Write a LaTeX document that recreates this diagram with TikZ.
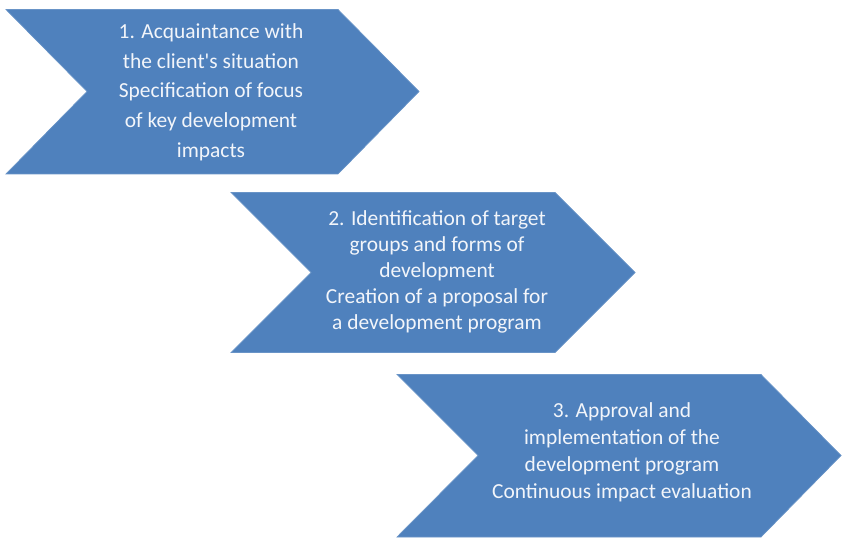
\documentclass[tikz,border=0pt]{standalone}
\usepackage{fontspec}
\setmainfont{Carlito}[Ligatures=TeXOff]
\usetikzlibrary{positioning}
\definecolor{chevblue}{HTML}{4F81BD}
\definecolor{chevtext}{HTML}{F2F5FA}

\begin{document}
\begin{tikzpicture}[x=0.02cm,y=-0.02cm,
    chevron/.style={
        fill=chevblue,draw=chevblue!85!white,line width=0.4pt,line join=miter
    },
    steptext/.style={
        text=chevtext,align=center,inner sep=0pt,
        font=\fontsize{12.2}{#1}\selectfont
    },
    steptext/.default=16.6pt
]
    \useasboundingbox (0,0) rectangle (847,546);

    % step 1
    \path[chevron] (6,9.5) -- (338,9.5) -- (419,91.5) -- (338,174) -- (6,174) -- (87,91.5) -- cycle;
    \node[steptext=16.9pt] (c1) at (211,92) {1. Acquaintance with\\the client's situation\\Specification of focus\\of key development\\impacts};

    % step 2
    \path[chevron] (231,192.5) -- (555,192.5) -- (635,272.5) -- (555,352.5) -- (231,352.5) -- (311,272.5) -- cycle;
    \node[steptext=14.8pt] (c2) at (437,272) {2. Identification of target\\groups and forms of\\development\\Creation of a proposal for\\a development program};

    % step 3
    \path[chevron] (397,374.5) -- (761,374.5) -- (841,455.5) -- (761,537) -- (397,537) -- (478,455.5) -- cycle;
    \node[steptext=15.3pt] (c3) at (622,452) {3. Approval and\\implementation of the\\development program\\Continuous impact evaluation};

\end{tikzpicture}
\end{document}
